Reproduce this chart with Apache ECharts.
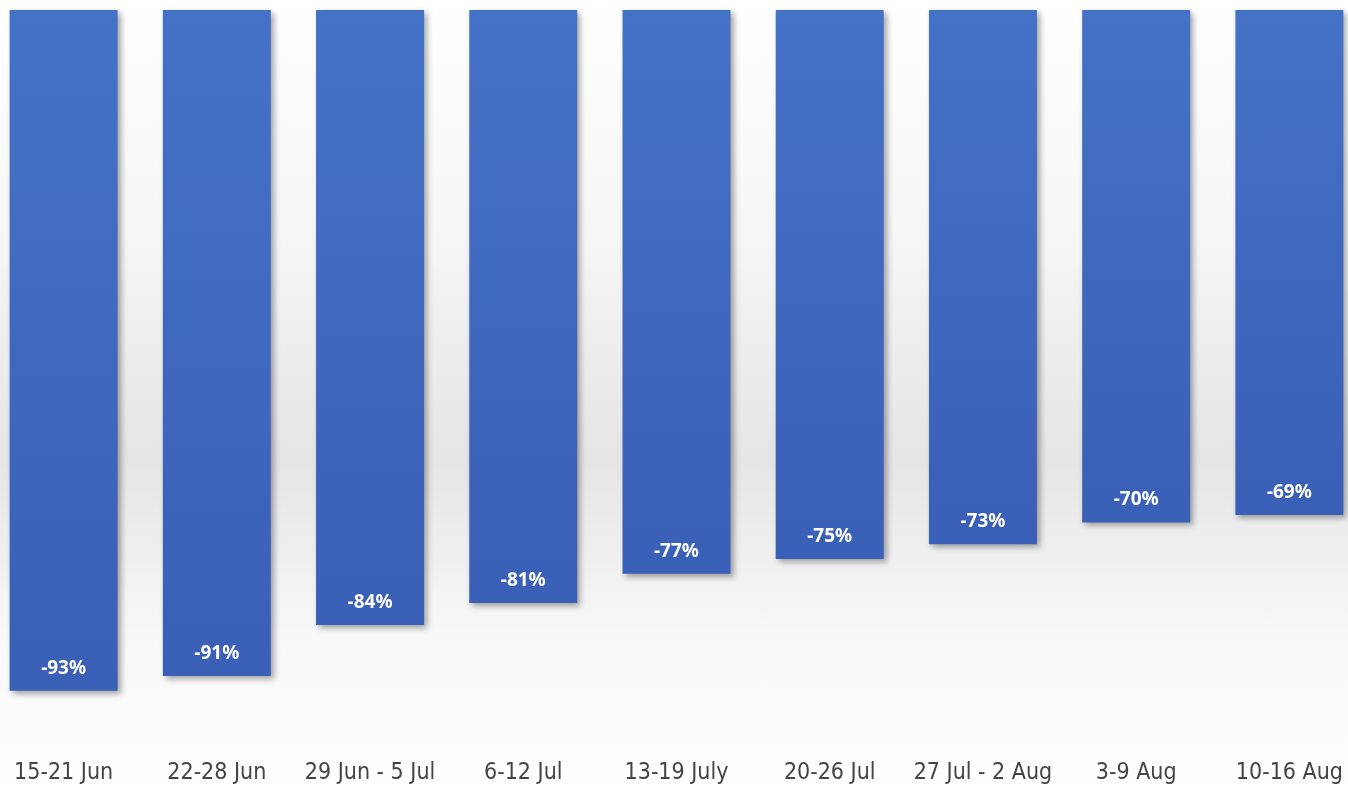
<!DOCTYPE html>
<html>
<head>
<meta charset="utf-8">
<script src="https://cdn.jsdelivr.net/npm/echarts@6/dist/echarts.min.js"></script>
<style>
html,body{margin:0;padding:0;width:1348px;height:793px;overflow:hidden;}
body{background:linear-gradient(to bottom,#ffffff 0%,#f6f6f6 30%,#e5e5e5 58%,#f8f8f8 80%,#ffffff 100%);position:relative;}
#main{position:absolute;left:-12.6px;top:0;width:1379px;height:793px;}
</style>
</head>
<body>
<div id="main"></div>
<script>
const categories = ['15-21 Jun','22-28 Jun','29 Jun - 5 Jul','6-12 Jul','13-19 July','20-26 Jul','27 Jul - 2 Aug','3-9 Aug','10-16 Aug'];
const values = [-93,-91,-84,-81,-77,-75,-73,-70,-69];

const chart = echarts.init(document.getElementById('main'));
chart.setOption({
  backgroundColor:'transparent',
  animation:false,
  grid:{left:0, right:0, top:10, bottom:51, containLabel:false},
  xAxis:{
    type:'category', data:categories, position:'bottom',
    axisLine:{show:false,onZero:false}, axisTick:{show:false},
    axisLabel:{interval:0, margin:20, fontSize:23, color:'#444444',
      fontFamily:"'Liberation Sans Narrow', 'DejaVu Sans Condensed', sans-serif"}
  },
  yAxis:{type:'value', min:-100, max:0, show:false, splitLine:{show:false}},
  series:[{
    type:'bar', data:values, barWidth:108,
    itemStyle:{
      color:new echarts.graphic.LinearGradient(0,0,0,1,[{offset:0,color:'#4472c6'},{offset:1,color:'#3a5fb6'}]),
      shadowColor:'rgba(0,0,0,0.35)', shadowBlur:6, shadowOffsetX:3, shadowOffsetY:3
    },
    label:{show:true, position:'insideBottom', distance:13, color:'#ffffff', fontSize:19, fontWeight:'bold',
      fontFamily:"'Noto Sans', sans-serif", formatter:p=>p.value+'%'}
  }]
});
</script>
</body>
</html>
